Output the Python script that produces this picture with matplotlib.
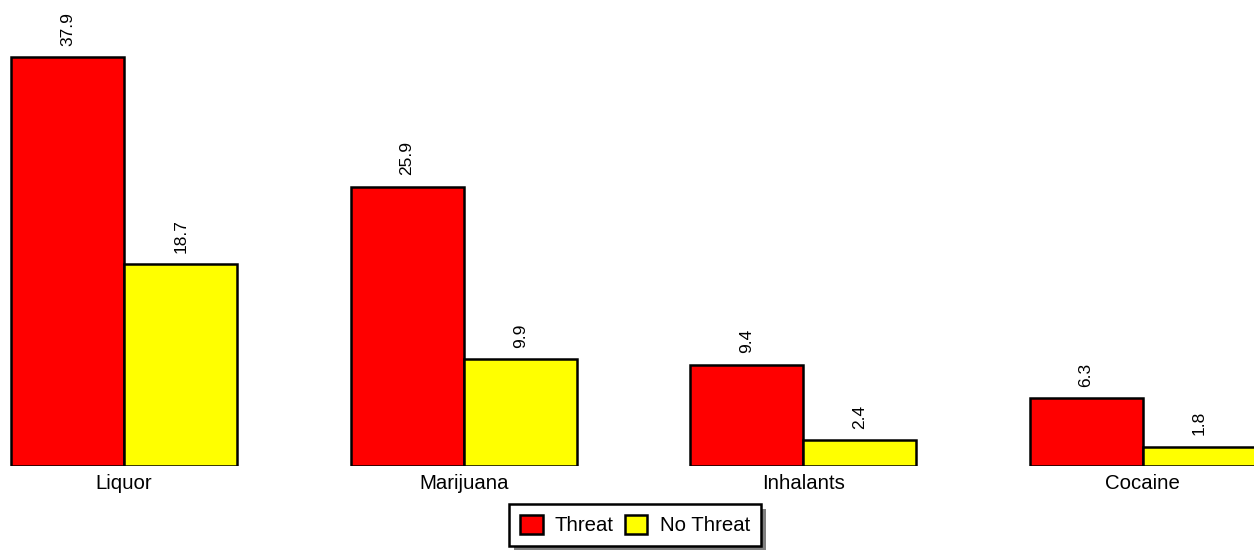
import numpy as np
import matplotlib
matplotlib.use('Agg')
import matplotlib.pyplot as plt
import matplotlib.patches as mpatches

plt.rcParams['font.family'] = ['Liberation Sans', 'DejaVu Sans']

categories = ['Liquor', 'Marijuana', 'Inhalants', 'Cocaine']
threat = [37.9, 25.9, 9.4, 6.3]
no_threat = [18.7, 9.9, 2.4, 1.8]

RED = '#ff0000'
YELLOW = '#ffff00'

fig = plt.figure(figsize=(12.54, 5.5), dpi=100)
ax = fig.add_axes([0, 84 / 550, 1, 466 / 550])

x = np.arange(len(categories))
w = 1 / 3
ax.bar(x, threat, width=w, align='edge', color=RED, edgecolor='black', linewidth=1.8)
ax.bar(x + w, no_threat, width=w, align='edge', color=YELLOW, edgecolor='black', linewidth=1.8)

for xi, v in zip(x, threat):
    ax.annotate(f'{v}', (xi + w / 2, v), xytext=(0, 8), textcoords='offset points',
                rotation=90, ha='center', va='bottom', fontsize=12.5)
for xi, v in zip(x, no_threat):
    ax.annotate(f'{v}', (xi + 1.5 * w, v), xytext=(0, 8), textcoords='offset points',
                rotation=90, ha='center', va='bottom', fontsize=12.5)

ax.set_xlim(-11 / 339.5, 1243 / 339.5)
ax.set_ylim(0, 466 / 10.79)
ax.set_xticks(x + w)
ax.set_xticklabels(categories, fontsize=14.7)
ax.tick_params(axis='x', length=0, pad=6)
ax.set_yticks([])
for s in ax.spines.values():
    s.set_visible(False)

handles = [mpatches.Patch(facecolor=RED, edgecolor='black', linewidth=1.8, label='Threat'),
           mpatches.Patch(facecolor=YELLOW, edgecolor='black', linewidth=1.8, label='No Threat')]
leg = fig.legend(handles=handles, loc='center', bbox_to_anchor=(635 / 1254, 1 - 525 / 550),
                 ncol=2, fontsize=14.7, fancybox=False, shadow=False, framealpha=1,
                 handlelength=1.1, handleheight=1.05, handletextpad=0.6,
                 columnspacing=0.55, borderpad=0.55)
leg.get_frame().set_edgecolor('black')
leg.get_frame().set_linewidth(1.8)

# grey drop shadow behind the legend box
fig.canvas.draw()
bb = leg.get_window_extent()
shadow = mpatches.Rectangle((bb.x0 + 5, bb.y0 - 5), bb.width, bb.height,
                            transform=None, facecolor='#808080', edgecolor='none', zorder=4)
fig.patches.append(shadow)
leg.set_zorder(5)

fig.savefig('out.png', dpi=100)
